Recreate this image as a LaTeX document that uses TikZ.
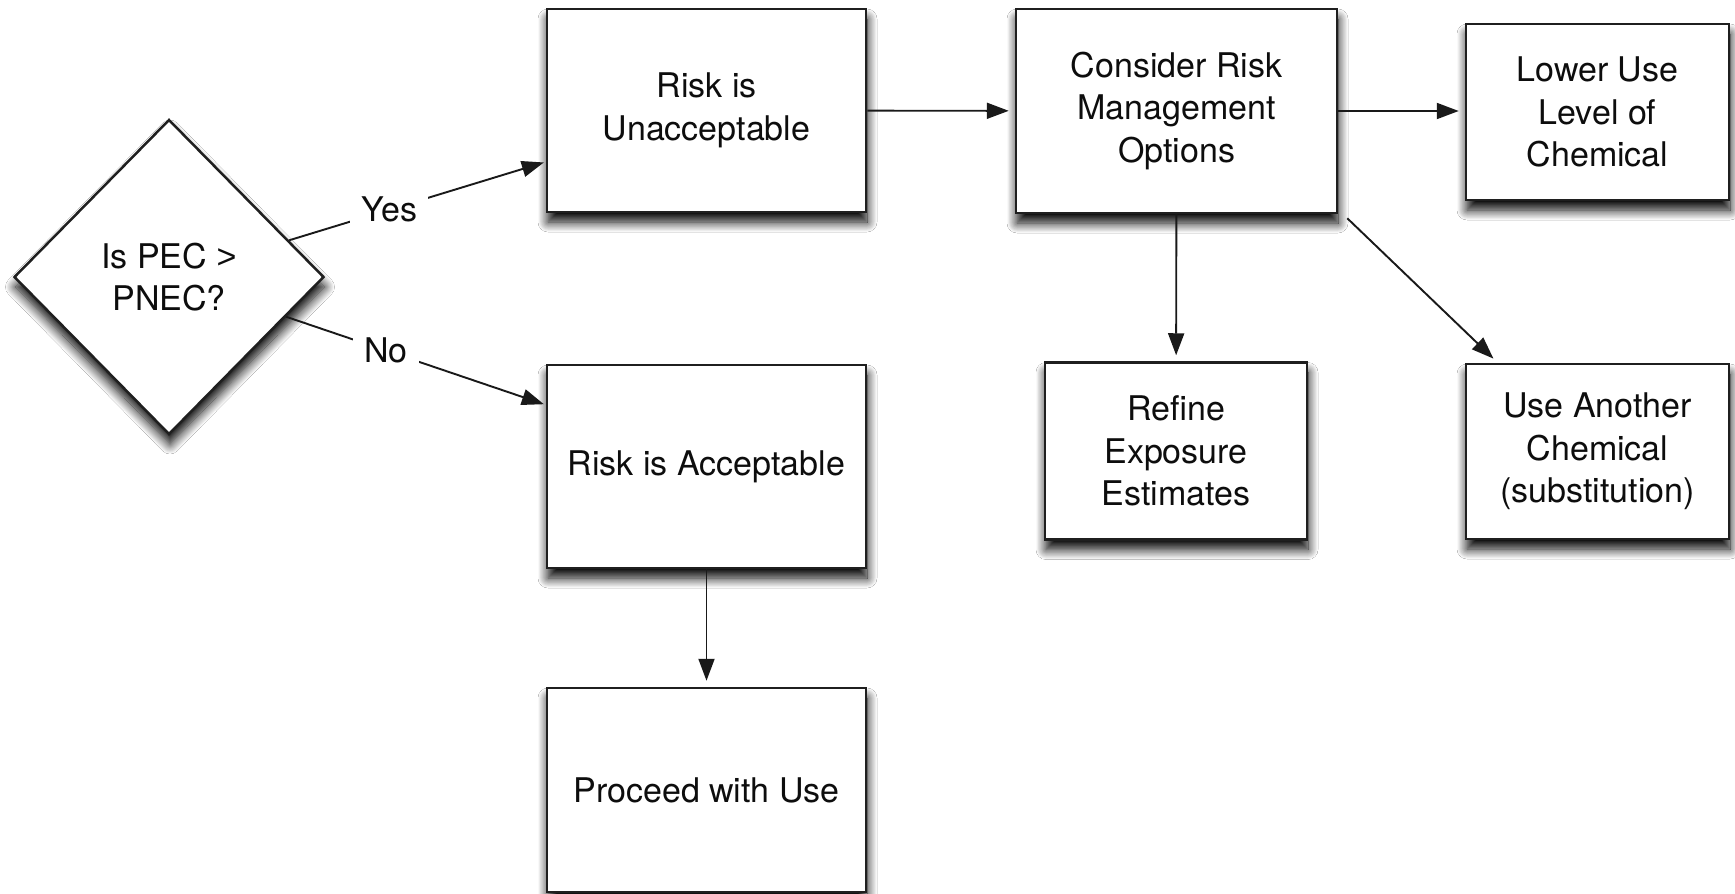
\documentclass[tikz,border=0pt]{standalone}
\usepackage{fontspec}
\setmainfont{TeX Gyre Heros}
\newfontfamily\gtfont{Liberation Sans}
\usetikzlibrary{shapes.geometric,arrows.meta,shadows.blur,calc}
\begin{document}
\begin{tikzpicture}[x=1pt,y=-1pt,
  txt/.style={font=\fontsize{34}{42.5}\selectfont, text=black!95},
  shad/.style={blur shadow={shadow xshift=1pt, shadow yshift=-10pt, shadow blur radius=10pt, shadow blur steps=14, shadow opacity=100}},
  box/.style={txt, draw=black!88, line width=2.5pt, fill=white, align=center, inner sep=0pt, shad},
  decision/.style={box, shape=diamond, aspect=1},
  conn/.style={draw=black!90, line width=1.9pt, -{Triangle[length=22pt,width=16pt]}, shorten >=6pt},
  lbl/.style={txt, fill=white, inner xsep=11pt, inner ysep=3pt}
]
\useasboundingbox[fill=white] (0,0) rectangle (1735,894);

\node[decision, minimum width=310pt, minimum height=315pt] (dia) at (169,277) {Is PEC {\gtfont >}\\PNEC?};
\node[box, minimum width=319pt, minimum height=203pt] (unacc) at (706.5,110.5) {Risk is\\Unacceptable};
\node[box, minimum width=319pt, minimum height=203pt] (acc) at (706.5,466.5) {Risk is Acceptable};
\node[box, minimum width=319pt, minimum height=204pt] (proc) at (706.5,790) {Proceed with Use};
\node[box, minimum width=321pt, minimum height=204pt] (cons) at (1176.5,111) {Consider Risk\\Management\\Options};
\node[box, minimum width=263pt, minimum height=176pt] (lower) at (1597.5,112) {Lower Use\\Level of\\Chemical};
\node[box, minimum width=262pt, minimum height=177pt] (refine) at (1176,451) {Refine\\Exposure\\Estimates};
\node[box, minimum width=263pt, minimum height=175pt] (subst) at (1597.5,451.5) {Use Another\\Chemical\\(substitution)};

\draw[conn, shorten >=2pt] (dia) -- ($(unacc.north west)!0.75!(unacc.south west)$) node[lbl, pos=0.39] {Yes};
\draw[conn, shorten >=2pt] (dia) -- ($(acc.north west)!0.2!(acc.south west)$) node[lbl, pos=0.385] {No};
\draw[conn] (unacc) -- (cons);
\draw[conn] (cons.east) -- (cons.east -| lower.west);
\draw[conn] (cons) -- (refine);
\draw[conn] ($(cons.south east)+(9,4)$) -- ($(subst.north west)+(33,0)$);
\draw[conn] (acc) -- (proc);
\end{tikzpicture}
\end{document}
